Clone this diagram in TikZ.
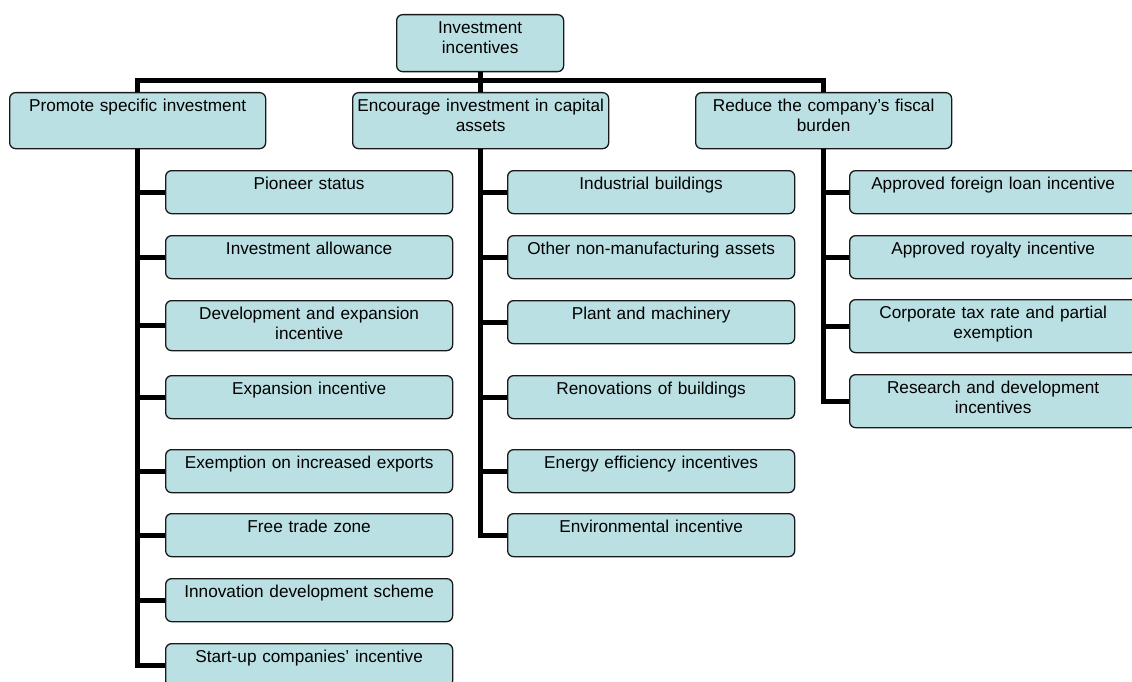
\documentclass[tikz,border=0pt]{standalone}
\usepackage{fontspec}
\setmainfont{Liberation Sans}
\usetikzlibrary{calc}
\definecolor{boxfill}{RGB}{186,224,227}

\begin{document}
\begin{tikzpicture}[x=1pt, y=-1pt,
    box/.style={draw=black!90, line width=1.3pt, rounded corners=6pt, fill=boxfill,
      anchor=north west, inner xsep=2pt, inner ysep=0pt, align=center,
      font=\fontsize{17.2}{20}\selectfont, text height=19pt, text depth=24pt},
    head/.style={box, text width=252pt, text depth=37pt},
    kid/.style={box, text width=283pt},
    link/.style={line width=5pt}]
  \useasboundingbox (0,0) rectangle (1132,682);
  \clip (0,0) rectangle (1132,682);

  % root and first level
  \node [box, text width=163pt, text depth=38pt] (top) at (396,14) {Investment\\incentives};
  \node [head] (promote) at (9,92) {Promote specific investment};
  \node [head] (encourage) at (352,92) {Encourage investment in capital\\assets};
  \node [head] (reduce) at (695,92) {Reduce the company’s fiscal\\burden};

  % promote specific investment
  \node [kid] (p1) at (165,170) {Pioneer status};
  \node [kid] (p2) at (165,235) {Investment allowance};
  \node [kid, text depth=31pt] (p3) at (165,300) {Development and expansion\\incentive};
  \node [kid] (p4) at (165,375) {Expansion incentive};
  \node [kid] (p5) at (165,449) {Exemption on increased exports};
  \node [kid] (p6) at (165,513) {Free trade zone};
  \node [kid] (p7) at (165,578) {Innovation development scheme};
  \node [kid] (p8) at (165,643) {Start-up companies’ incentive};

  % capital assets
  \node [kid] (c1) at (507,170) {Industrial buildings};
  \node [kid] (c2) at (507,235) {Other non-manufacturing assets};
  \node [kid] (c3) at (507,300) {Plant and machinery};
  \node [kid] (c4) at (507,375) {Renovations of buildings};
  \node [kid] (c5) at (507,449) {Energy efficiency incentives};
  \node [kid] (c6) at (507,513) {Environmental incentive};

  % fiscal burden
  \node [kid] (r1) at (849,170) {Approved foreign loan incentive};
  \node [kid] (r2) at (849,235) {Approved royalty incentive};
  \node [kid, text depth=34pt] (r3) at (849,299) {Corporate tax rate and partial\\exemption};
  \node [kid, text depth=34pt] (r4) at (849,374) {Research and development\\incentives};

  % connectors
  \coordinate (bus) at (480,81);
  \draw [link] (top.south) -- (top.south |- bus);
  \draw [link] (promote.north) |- (bus) -| (reduce.north);
  \draw [link] (encourage.north) -- (encourage.north |- bus);

  \draw [link] (promote.south) |- (p8.west);
  \foreach \k in {p1,p2,p3,p4,p5,p6,p7}
    \draw [link] (promote.south |- \k.west) -- (\k.west);

  \draw [link] (encourage.south) |- (c6.west);
  \foreach \k in {c1,c2,c3,c4,c5}
    \draw [link] (encourage.south |- \k.west) -- (\k.west);

  \draw [link] (reduce.south) |- (r4.west);
  \foreach \k in {r1,r2,r3}
    \draw [link] (reduce.south |- \k.west) -- (\k.west);
\end{tikzpicture}
\end{document}
